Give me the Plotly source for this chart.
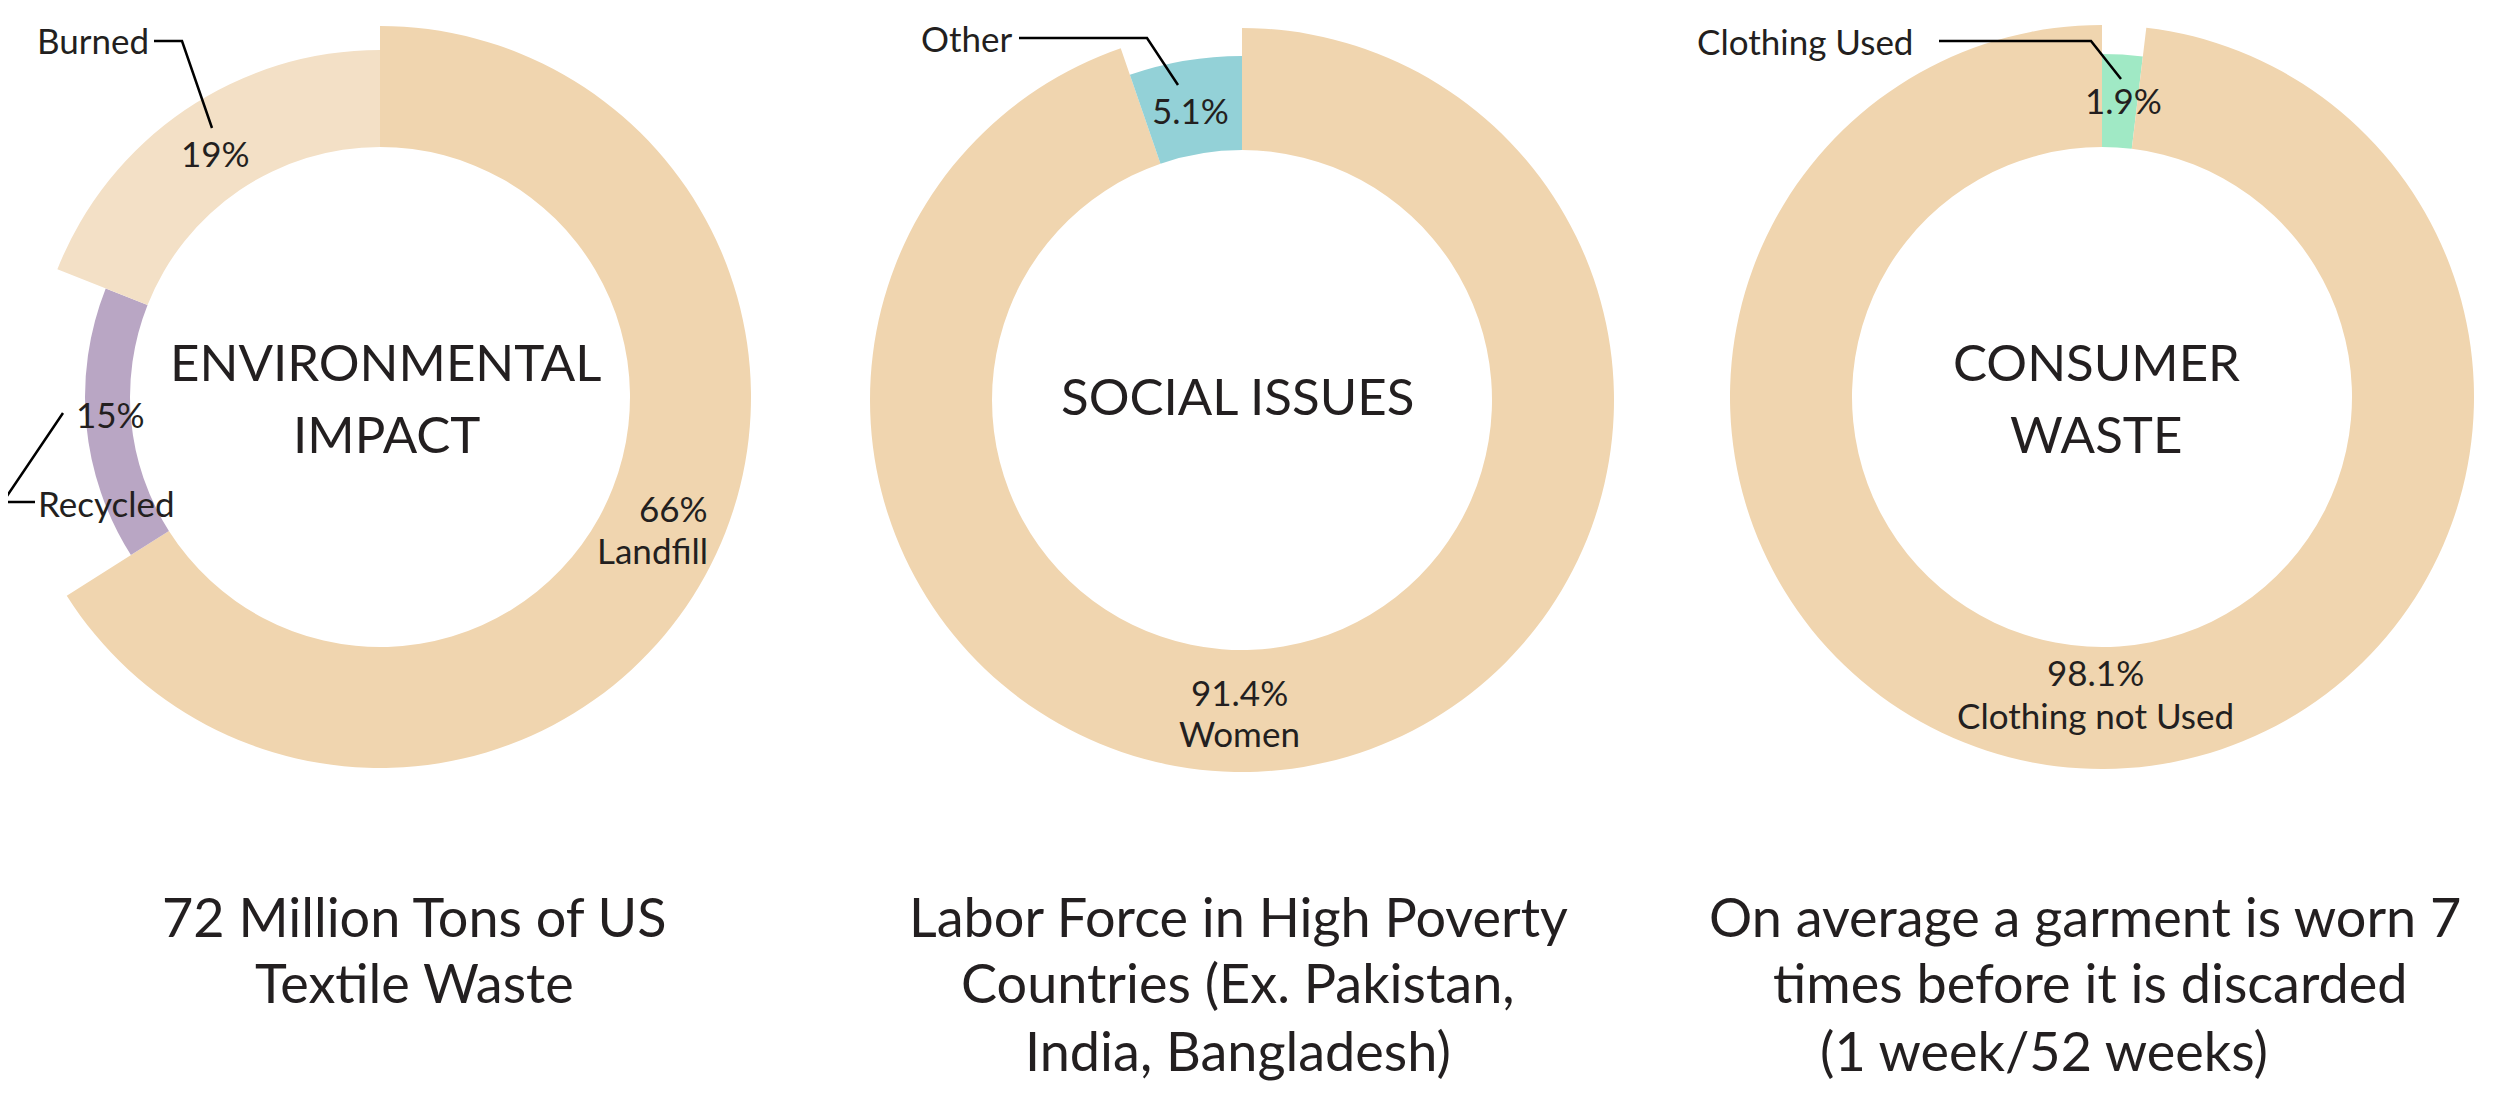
import plotly.graph_objects as go

# data
env_labels = ["Landfill", "Recycled", "Burned"]
env_values = [66, 15, 19]
social_labels = ["Women", "Other"]
social_values = [91.4, 5.1]
consumer_labels = ["Clothing Used", "Clothing not Used"]
consumer_values = [1.9, 98.1]

env_title = ["ENVIRONMENTAL", "IMPACT"]
social_title = ["SOCIAL ISSUES"]
consumer_title = ["CONSUMER", "WASTE"]

env_caption = ["72 Million Tons of US", "Textile Waste"]
social_caption = ["Labor Force in High Poverty", "Countries (Ex. Pakistan,", "India, Bangladesh)"]
consumer_caption = ["On average a garment is worn 7", "times before it is discarded", "(1 week/52 weeks)"]

# page geometry (pixels of the screenshot; body has an 8px margin)
W, H = 2484, 1077
OFF = 8
INNER = 250
FONT = "Lato"
INK = "#231F20"


def fx(x):
    return (x - OFF) / W


def fy(y):
    return 1 - (y - OFF) / H


def ring(fig, labels, values, colors, radii, cx, cy):
    # one pie per slice so every slice can have its own outer radius
    for i, r in enumerate(radii):
        cols = [c if j == i else "rgba(0,0,0,0)" for j, c in enumerate(colors)]
        fig.add_trace(go.Pie(
            labels=labels, values=values, sort=False, direction="clockwise",
            rotation=0, hole=INNER / r, textinfo="none", hoverinfo="label+percent",
            marker=dict(colors=cols, line=dict(width=0)),
            domain=dict(x=[fx(cx - r), fx(cx + r)], y=[fy(cy + r), fy(cy - r)]),
            showlegend=False,
        ))


def text(fig, s, x, y, size, anchor="center"):
    fig.add_annotation(text=s, x=fx(x), y=fy(y), xref="paper", yref="paper",
                       xanchor=anchor, yanchor="middle", showarrow=False,
                       font=dict(family=FONT, size=size, color=INK))


def leader(fig, pts):
    path = "M " + " L ".join(f"{fx(x)},{fy(y)}" for x, y in pts)
    fig.add_shape(type="path", path=path, xref="paper", yref="paper",
                  line=dict(color="#000000", width=2.5))


fig = go.Figure()

cream = "#F0D5AF"
ring(fig, env_labels, env_values, [cream, "#B9A6C4", "#F3E0C6"], [371, 295, 347], 380, 397)
ring(fig, social_labels, social_values, [cream, "#93D1D7"], [372, 344], 1242, 400)
ring(fig, consumer_labels, consumer_values, ["#A0E9C5", cream], [343, 372], 2102, 397)

# centre titles
for s, y in zip(env_title, [362, 433]):
    text(fig, s, 386, y, 51)
text(fig, social_title[0], 1237, 395, 51)
for s, y in zip(consumer_title, [362, 433]):
    text(fig, s, 2096, y, 51)

# slice labels
pct = lambda v: f"{v:g}%"
text(fig, env_labels[2], 93, 40, 35)
text(fig, pct(env_values[2]), 215, 153, 35)
leader(fig, [(154, 41), (182, 41), (212, 128)])
text(fig, pct(env_values[1]), 111, 414, 35)
text(fig, env_labels[1], 107, 503, 35)
leader(fig, [(63, 413), (3, 502), (35, 502)])
text(fig, pct(env_values[0]), 710, 508, 35, "right")
text(fig, env_labels[0], 710, 550, 35, "right")

text(fig, social_labels[1], 967, 38, 35)
text(fig, pct(social_values[1]), 1190, 110, 35)
leader(fig, [(1019, 38), (1147, 38), (1178, 85)])
text(fig, pct(social_values[0]), 1239, 692, 35)
text(fig, social_labels[0], 1239, 733, 35)

text(fig, consumer_labels[0], 1805, 41, 35)
text(fig, pct(consumer_values[0]), 2123, 100, 35)
leader(fig, [(1939, 41), (2091, 41), (2121, 79)])
text(fig, pct(consumer_values[1]), 2095, 672, 35)
text(fig, consumer_labels[1], 2095, 715, 35)

# captions
for s, y in zip(env_caption, [916, 982]):
    text(fig, s, 414, y, 54)
for s, y in zip(social_caption, [916, 982, 1050]):
    text(fig, s, 1238, y, 54)
for s, x, y in zip(consumer_caption, [2085, 2090, 2044], [916, 982, 1050]):
    text(fig, s, x, y, 54)

fig.update_layout(
    width=W, height=H,
    margin=dict(l=0, r=0, t=0, b=0),
    paper_bgcolor="white",
    plot_bgcolor="white",
    showlegend=False,
)

fig.write_html("out.html")
